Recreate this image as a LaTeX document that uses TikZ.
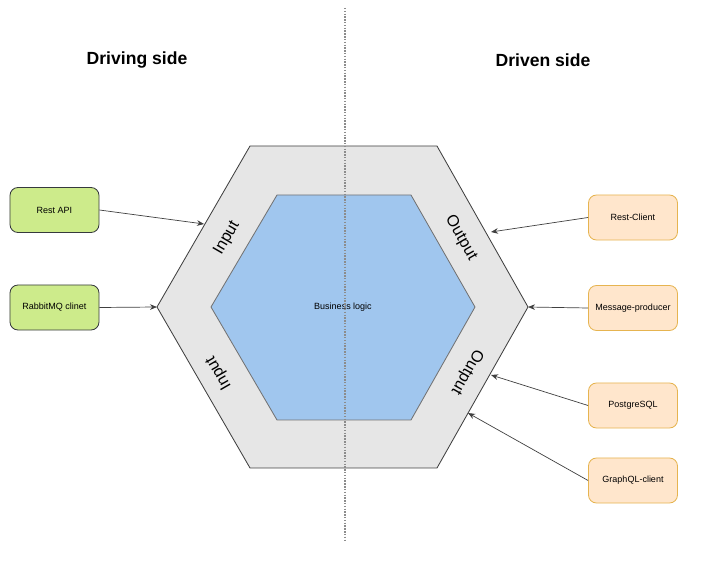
\documentclass[tikz,border=0pt]{standalone}
\usepackage{fontspec}
\setmainfont{Liberation Sans}
\usetikzlibrary{arrows.meta}

\definecolor{drivingfill}{RGB}{205,235,139}
\definecolor{drivingline}{RGB}{54,57,61}
\definecolor{drivenfill}{RGB}{255,230,204}
\definecolor{drivenline}{RGB}{230,180,80}
\definecolor{hexgray}{RGB}{230,230,230}
\definecolor{hexblue}{RGB}{160,198,238}

\tikzset{
  adapter/.style={rounded corners=0.2cm, line width=0.6pt, minimum width=2.225cm,
    minimum height=1.125cm, inner sep=0pt, font=\fontsize{6.4}{7.5}\selectfont},
  driving/.style={adapter, draw=drivingline, fill=drivingfill},
  driven/.style={adapter, draw=drivenline, fill=drivenfill},
  port/.style={font=\fontsize{11.5}{13}\selectfont},
  side/.style={font=\fontsize{12.5}{15}\selectfont\bfseries},
  flow/.style={-{Stealth[length=5pt,width=4pt]}, line width=0.5pt, draw=black!75}
}

\begin{document}
\begin{tikzpicture}[x=0.025cm, y=-0.025cm]
    \useasboundingbox (0,0) rectangle (719,571);

    \draw[line width=0.6pt, draw=black!75, fill=hexgray]
      (250,146) -- (437,146) -- (528,307) coordinate (hr) -- (437,468)
      -- (250,468) -- (157,307) coordinate (hl) -- cycle;
    \draw[line width=0.6pt, draw=black!55, fill=hexblue]
      (277,195) -- (411,195) -- (475,307) -- (411,420)
      -- (277,420) -- (211,307) -- cycle;

    \node[font=\fontsize{6.4}{7.5}\selectfont] (logic) at (343,307) {Business logic};

    \node[port, rotate=60] (in1) at (227,238) {Input};
    \node[port, rotate=120] (in2) at (219,373) {Input};
    \node[port, rotate=-60] (out1) at (461,238) {Output};
    \node[port, rotate=-120] (out2) at (467,372) {Output};

    \draw[densely dotted, line width=1pt, draw=black!45] (345,8) -- (345,540);

    \node[side] (driving) at (137,60) {Driving side};
    \node[side] (driven) at (543,60) {Driven side};

    \node[driving] (rest) at (54.5,210) {Rest API};
    \node[driving] (rabbit) at (54.5,307.5) {RabbitMQ clinet};

    \node[driven] (client) at (633,217.5) {Rest-Client};
    \node[driven] (producer) at (633,308) {Message-producer};
    \node[driven] (postgres) at (633,405.5) {PostgreSQL};
    \node[driven] (graphql) at (633,480.5) {GraphQL-client};

    \coordinate (restend) at (204,224);
    \coordinate (clientend) at (491,232);
    \coordinate (postgresend) at (491,375);
    \coordinate (graphqlend) at (468,413);

    \draw[flow] (rest.east) -- (restend);
    \draw[flow] (rabbit.east) -- (hl);
    \draw[flow] (client.west) -- (clientend);
    \draw[flow] (producer.west) -- (hr);
    \draw[flow] (postgres.west) -- (postgresend);
    \draw[flow] (graphql.west) -- (graphqlend);
\end{tikzpicture}
\end{document}
